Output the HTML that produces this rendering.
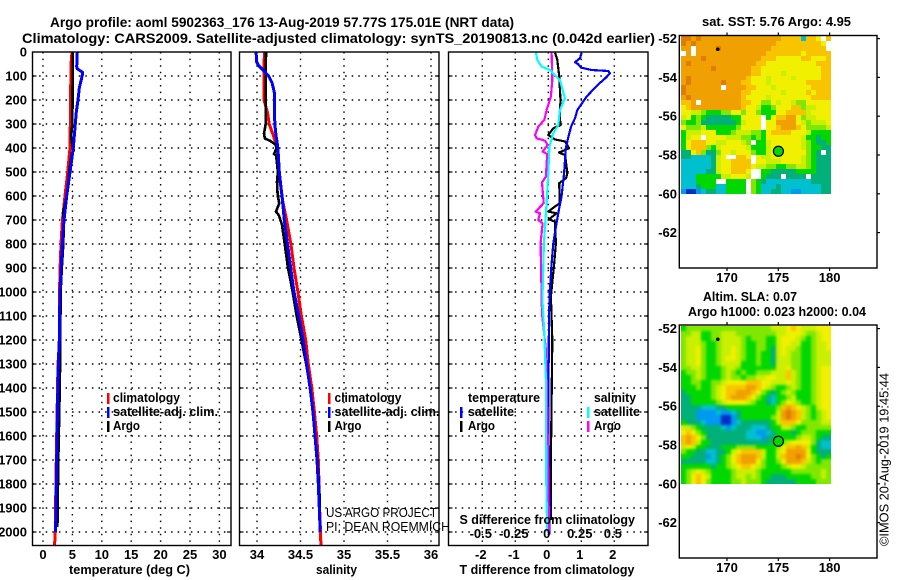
<!DOCTYPE html>
<html lang="en">
<head>
<meta charset="utf-8">
<title>Argo profile 5902363_176</title>
<style>
html,body{margin:0;padding:0;background:#fff;}
svg{display:block;font-family:"Liberation Sans",sans-serif;fill:#000;}
.b{font-weight:bold;font-size:13px;}
.t{font-weight:bold;font-size:14px;}
.r{font-weight:normal;font-size:13px;}
</style>
</head>
<body>
<svg id="chart" xmlns="http://www.w3.org/2000/svg" width="900" height="580" viewBox="0 0 900 580">
<defs>
<filter id="smooth" filterUnits="userSpaceOnUse" x="681" y="326" width="150" height="158" color-interpolation-filters="sRGB">
<feGaussianBlur in="SourceGraphic" stdDeviation="1.4" result="soft"/>
<feMerge><feMergeNode in="SourceGraphic"/><feMergeNode in="soft"/></feMerge>
</filter>
</defs>
<rect x="0" y="0" width="900" height="580" fill="#fff"/>
<g id="maps"></g>
<g id="plots"></g>

<text class="t" x="50" y="27" textLength="464" lengthAdjust="spacingAndGlyphs">Argo profile: aoml 5902363_176 13-Aug-2019 57.77S 175.01E (NRT data)</text>
<text class="t" x="22" y="43" textLength="633" lengthAdjust="spacingAndGlyphs">Climatology: CARS2009. Satellite-adjusted climatology: synTS_20190813.nc (0.042d earlier)</text>

<text class="b" x="69" y="574" textLength="121" lengthAdjust="spacingAndGlyphs">temperature (deg C)</text>
<text class="b" x="316" y="574" textLength="41" lengthAdjust="spacingAndGlyphs">salinity</text>
<text class="b" x="459.5" y="574" textLength="175" lengthAdjust="spacingAndGlyphs">T difference from climatology</text>
<text class="b" x="459.5" y="524" textLength="175.5" lengthAdjust="spacingAndGlyphs">S difference from climatology</text>

<g>
<rect x="107" y="393" width="2.5" height="11" fill="#f00"/>
<rect x="107" y="407" width="2.5" height="11" fill="#00f"/>
<rect x="107" y="421" width="2.5" height="11" fill="#000"/>
<text class="b" x="113" y="402" textLength="67" lengthAdjust="spacingAndGlyphs">climatology</text>
<text class="b" x="113" y="416" textLength="105" lengthAdjust="spacingAndGlyphs">satellite-adj. clim.</text>
<text class="b" x="113" y="430" textLength="27" lengthAdjust="spacingAndGlyphs">Argo</text>
</g>
<g>
<rect x="328" y="393" width="2.5" height="11" fill="#f00"/>
<rect x="328" y="407" width="2.5" height="11" fill="#00f"/>
<rect x="328" y="421" width="2.5" height="11" fill="#000"/>
<text class="b" x="334.5" y="402" textLength="67" lengthAdjust="spacingAndGlyphs">climatology</text>
<text class="b" x="334.5" y="416" textLength="105" lengthAdjust="spacingAndGlyphs">satellite-adj. clim.</text>
<text class="b" x="334.5" y="430" textLength="27" lengthAdjust="spacingAndGlyphs">Argo</text>
</g>
<g>
<text class="b" x="468" y="402" textLength="72" lengthAdjust="spacingAndGlyphs">temperature</text>
<rect x="460" y="407" width="2.5" height="11" fill="#00f"/>
<rect x="460" y="421" width="2.5" height="11" fill="#000"/>
<text class="b" x="468" y="416" textLength="46" lengthAdjust="spacingAndGlyphs">satellite</text>
<text class="b" x="468" y="430" textLength="27" lengthAdjust="spacingAndGlyphs">Argo</text>
<text class="b" x="594" y="402" textLength="42" lengthAdjust="spacingAndGlyphs">salinity</text>
<rect x="587" y="407" width="2.5" height="11" fill="#0ff"/>
<rect x="587" y="421" width="2.5" height="11" fill="#f0f"/>
<text class="b" x="594" y="416" textLength="46" lengthAdjust="spacingAndGlyphs">satellite</text>
<text class="b" x="594" y="430" textLength="27" lengthAdjust="spacingAndGlyphs">Argo</text>
</g>

<text class="r" x="326" y="517" textLength="111" lengthAdjust="spacingAndGlyphs">US ARGO PROJECT</text>
<text class="r" x="326" y="531" textLength="124" lengthAdjust="spacingAndGlyphs">PI: DEAN ROEMMICH</text>

<text class="b" x="702" y="26" textLength="149" lengthAdjust="spacingAndGlyphs">sat. SST: 5.76 Argo: 4.95</text>
<text class="b" x="703" y="301" textLength="94" lengthAdjust="spacingAndGlyphs">Altim. SLA: 0.07</text>
<text class="b" x="688" y="316" textLength="178" lengthAdjust="spacingAndGlyphs">Argo h1000: 0.023 h2000: 0.04</text>
<text class="r" transform="translate(888.5,546) rotate(-90)" x="0" y="0" textLength="173" lengthAdjust="spacingAndGlyphs">©IMOS 20-Aug-2019 19:45:44</text>
</svg>

<script>
// ---- profile data (depth in dbar) ----
const depthTicks = [0,100,200,300,400,500,600,700,800,900,1000,1100,1200,1300,1400,1500,1600,1700,1800,1900,2000];
const tempTicks = [0,5,10,15,20,25,30];
const salTicks = [34,34.5,35,35.5,36];
const salTickLabels = ["34","34.5","35","35.5","36"];
const tDiffTicks = [-2,-1,0,1,2];
const sDiffTicks = [-0.5,-0.25,0,0.25,0.5];
const sDiffLabels = ["-0.5","-0.25","0","0.25","0.5"];

const tempClimDepth = [0,50,400,500,600,700,800,900,1000,1100,1200,1300,1500,1800,2000,2057];
const tempClim = [4.93,4.76,4.6,4.2,3.74,3.3,3.06,2.9,2.8,2.8,2.8,2.55,2.4,2.2,2.1,1.95];
const tempSatDepth = [0,60,70,85,95,150,200,250,300,400,500,600,700,800,900,1000,1100,1200,1300,1500,1800,2000];
const tempSat = [5.84,5.73,5.84,6.75,6.7,6.17,5.95,5.67,5.5,5.16,4.6,4.03,3.57,3.28,3.1,2.9,2.8,2.77,2.6,2.45,2.27,2.15];
const tempArgoDepth = [0,300,350,390,410,420,500,600,670,700,800,900,1000,1200,1400,1450,1700,1980];
const tempArgo = [5.05,5.0,4.77,5.0,5.26,4.9,4.45,4.05,3.4,3.55,3.45,3.2,3.0,2.95,2.85,2.8,2.6,2.45];

const salClimDepth = [0,200,250,300,350,400,500,620,700,800,900,1000,1100,1200,1300,1400,1500,1600,1700,1800,1900,2000,2057];
const salClim = [34.084,34.08,34.12,34.14,34.19,34.23,34.25,34.295,34.34,34.39,34.425,34.47,34.51,34.56,34.59,34.63,34.66,34.686,34.705,34.713,34.72,34.73,34.735];
const salSatDepth = [0,40,55,75,100,130,170,300,350,400,500,600,700,800,900,1000,1100,1200,1300,1400,1500,1600,1700,1800,1900,2000];
const salSat = [33.99,33.995,34.015,34.07,34.134,34.175,34.2,34.205,34.22,34.24,34.256,34.287,34.314,34.35,34.387,34.425,34.48,34.53,34.57,34.61,34.644,34.667,34.69,34.705,34.716,34.727];
const salArgoDepth = [0,150,300,340,360,370,385,400,425,430,500,540,600,630,665,680,720,800,900,1000,1100,1300,1400,1500,1700,1850,1960];
const salArgo = [34.103,34.1,34.1,34.08,34.09,34.15,34.21,34.225,34.195,34.22,34.24,34.23,34.238,34.256,34.218,34.25,34.287,34.318,34.356,34.41,34.456,34.565,34.61,34.64,34.695,34.72,34.72];

const dTSatDepth = [3,26,43,51,65,75,79,89,110,138,186,242,276,311,353,401,505,603,658,714,797,881,992,1100,1500,2010];
const dTSat = [1.01,0.96,0.81,0.91,0.99,1.31,1.82,1.87,1.72,1.49,1.16,0.88,0.81,0.69,0.61,0.53,0.48,0.40,0.32,0.25,0.15,0.10,0.05,0.02,0,0.04];
const dTArgoDepth = [3,30,100,200,270,304,318,346,364,373,401,419,429,505,525,547,630,644,665,672,697,707,797,881,1019,1200,1700,1950];
const dTArgo = [0.20,0.27,0.33,0.37,0.35,0.37,0.15,0,0.2,0.51,0.63,0.32,0.51,0.58,0.54,0.33,0.35,0.2,0,0.25,0.02,0.2,0.23,0.18,0.08,0.12,0.08,0.08];
const dSArgoDepth = [3,117,186,242,283,311,346,360,369,388,415,425,519,544,630,665,672,700,714,797,1033,1089,1242,1353,1645,2000];
const dSArgo = [0.025,0.03,0.02,-0.013,-0.03,-0.076,-0.10,-0.088,-0.025,-0.005,-0.043,-0.008,-0.018,-0.048,-0.035,-0.096,-0.063,-0.076,-0.043,-0.058,-0.05,-0.048,-0.018,-0.013,-0.003,0.005];
const dSSatDepth = [3,33,61,75,117,193,242,304,339,394,505,630,797,1033,1171,1365,1796,1997];
const dSSat = [-0.093,-0.083,-0.05,0.013,0.088,0.126,0.088,0.076,0.038,0.008,0,-0.013,-0.033,-0.045,-0.03,-0.018,-0.015,-0.008];

// ---- map data: one character per grid cell, '.' = no data, spaces only group columns ----
const mapLatTicks = [-52,-54,-56,-58,-60,-62];
const mapLonTicks = [170,175,180];
const profileLon = 175.01;
const profileLat = -57.77;
const otherLon = 169.1;
const otherLat = -52.55;
const sstRows = [
"aa9a999999 9999999999 88882887.8",
"a9a9999999 9999999998 888888887.",
"99.9999a99 9999999988 888888888.",
".9.9999999 9999999888 8888788888",
"9999a99999 9999998887 7777887778",
"9a99999999 9999988777 7777777888",
"999999a999 9999887777 7777777788",
"9999999999 9999887777 6777777788",
"9a99999999 9998777677 7767777788",
"9a999999a9 9988777677 7777788888",
"a9999999.9 9998877767 7777778888",
"a999999999 9988777777 6777787888",
"9a99999999 9987777677 7777778888",
"889.999999 9988775576 7765577777",
"7899999999 9987764457 7788566777",
"7766544455 7757754447 7888867777",
"6745433333 447777.478 8997566777",
"5445333333 346777.779 9997656667",
"7555644444 457777.778 9998755556",
"4666777444 5666554788 8877764444",
"4677.77776 6655454777 7777644344",
"4788877667 7765.44677 7777654334",
"4788854677 7776444677 7777654433",
"3378533577 6777544677 77777543.3",
"332222367. .887.76677 7777654333",
"2222223677 8888.77666 7777654333",
"2222223677 8888766554 4556654333",
"2222233677 8887..4433 3334444333",
"2224444466 7776..4333 .3333.3333",
"2224444..4 444.543222 2222223333",
"2223444224 444.542223 2222222233",
"1001233224 444.542233 2211222233"
];
const slaRows = [
"4555555555 5555555566 6787666777",
"5566445566 6555555556 6777655677",
"5666445566 6654555446 7776545677",
"5666544566 6654455446 7766445667",
"5667544566 7654455436 7665445667",
"5667544566 7654454436 7655445666",
"5667544567 7654454436 6655445666",
"5667544566 6644454436 6655445666",
"5566544456 6544444446 6755445677",
"4556544456 5454455566 6865445677",
"4456544456 5545566776 6865445677",
"4455445567 7778887766 6765445677",
"4445445678 8889987654 4565445677",
"3444445678 8999875434 5654445677",
"3344445678 9998754324 4564445677",
"3344444567 7776544324 5765445677",
"3333222334 4444444445 8987654677",
"3331111211 2344444446 9a98654567",
"3331111100 1344444456 9a98654567",
"4333211100 1233333346 8887555566",
"6654333321 2333222344 6654455555",
"7875433333 3332211234 4434555444",
"8987533333 3332221334 4445665433",
"8986443333 3333333344 5677775322",
"6764433344 4555544445 7889864322",
"5443322334 6788886446 7999974333",
"4433312345 7899986446 899a975434",
"3333322345 7899975445 7999865455",
"4444443445 6788765444 5677655555",
"4567654444 5666654444 4455555565",
"4578764444 5665654433 3444445565",
"4578754444 5565554333 3334444555"
];
const paletteKeys = ["0","1","2","3","4","5","6","7","8","9","a"];
const paletteColors = ["#0030c8","#0098f0","#00c0d0","#00b078","#00d800","#80e800","#c8f000","#f0f000","#f8c400","#f0a000","#e07c00"];

// ---- geometry ----
const NS = "http://www.w3.org/2000/svg";
const plots = document.getElementById("plots");
const maps = document.getElementById("maps");
const PANEL_TOP = 52, PANEL_BOTTOM = 545.5;
const depthY = d => PANEL_TOP + d * 0.24;
const tempX = t => 43 + t * 5.88;
const salX = s => 257 + (s - 34) * 87;
const dTX = t => 548.3 + t * 33;
const dSX = s => 548.3 + s * 132;
const lonX = l => 778.3 + (l - 175) * 10.26;
const latY1 = la => 155 + (-58 - la) * 19.4;
const latY2 = la => 445 + (-58 - la) * 19.4;

function mk(parent, tag, name, attrs, text) {
  const e = document.createElementNS(NS, tag);
  
  
  for (const k in attrs) e.setAttribute(k, attrs[k]);
  if (text !== undefined) e.textContent = text;
  parent.appendChild(e);
  return e;
}

function panel(name, x0, x1, xTicks, xFn) {
  const g = mk(plots, "g", name, {});
  const dots = {stroke:"#000","stroke-width":1.4,"stroke-dasharray":"1.5 5.1",fill:"none"};
  depthTicks.forEach(d => {
    const y = depthY(d);
    if (d > 0) {
      mk(g, "line", "horizontal-gridline", Object.assign({x1:x0,x2:x1,y1:y,y2:y}, dots));
      mk(g, "line", "depth-tick-left", {x1:x0,x2:x0+4,y1:y,y2:y,stroke:"#000","stroke-width":1.2});
      mk(g, "line", "depth-tick-right", {x1:x1-4,x2:x1,y1:y,y2:y,stroke:"#000","stroke-width":1.2});
    }
  });
  xTicks.forEach(v => {
    const x = xFn(v);
    mk(g, "line", "vertical-gridline", Object.assign({x1:x,x2:x,y1:PANEL_TOP,y2:PANEL_BOTTOM}, dots));
  });
  return g;
}

function series(g, name, color, depths, values, xFn, width) {
  const pts = depths.map((d, i) => xFn(values[i]).toFixed(1) + "," + depthY(d).toFixed(1)).join(" ");
  mk(g, "polyline", name, {points:pts,fill:"none",stroke:color,"stroke-width":width,"shape-rendering":"crispEdges","stroke-linejoin":"round"});
}

function frame(g, name, x0, x1, y0, y1) {
  mk(g, "rect", name, {x:x0,y:y0,width:x1-x0,height:y1-y0,fill:"none",stroke:"#000","stroke-width":1.4});
}

// temperature panel
const p1 = panel("temperature-panel", 32.5, 231, tempTicks, tempX);
series(p1, "temperature-climatology-line", "#f00", tempClimDepth, tempClim, tempX, 3);
series(p1, "temperature-argo-line", "#000", tempArgoDepth, tempArgo, tempX, 2.6);
series(p1, "temperature-satellite-line", "#00f", tempSatDepth, tempSat, tempX, 3);
frame(p1, "temperature-panel-frame", 32.5, 231, PANEL_TOP, PANEL_BOTTOM);

// salinity panel
const p2 = panel("salinity-panel", 239.5, 439, salTicks, salX);
series(p2, "salinity-climatology-line", "#f00", salClimDepth, salClim, salX, 3);
series(p2, "salinity-argo-line", "#000", salArgoDepth, salArgo, salX, 2.6);
series(p2, "salinity-satellite-line", "#00f", salSatDepth, salSat, salX, 3);
frame(p2, "salinity-panel-frame", 239.5, 439, PANEL_TOP, PANEL_BOTTOM);

// difference panel
const p3 = panel("difference-panel", 448.5, 648, tDiffTicks, dTX);
series(p3, "t-difference-argo-line", "#000", dTArgoDepth, dTArgo, dTX, 2.2);
series(p3, "t-difference-satellite-line", "#00f", dTSatDepth, dTSat, dTX, 2.2);
series(p3, "s-difference-argo-line", "#f0f", dSArgoDepth, dSArgo, dSX, 2.2);
series(p3, "s-difference-satellite-line", "#0ff", dSSatDepth, dSSat, dSX, 2.2);
frame(p3, "difference-panel-frame", 448.5, 648, PANEL_TOP, PANEL_BOTTOM);

// tick labels
depthTicks.forEach(d => {
  mk(plots, "text", "depth-tick-label", {x:27,y:depthY(d)+4.5,"text-anchor":"end","class":"b"}, String(d));
});
tempTicks.forEach(v => {
  mk(plots, "text", "temperature-tick-label", {x:tempX(v),y:559,"text-anchor":"middle","class":"b"}, String(v));
});
salTicks.forEach((v, i) => {
  mk(plots, "text", "salinity-tick-label", {x:salX(v),y:559,"text-anchor":"middle","class":"b"}, salTickLabels[i]);
});
tDiffTicks.forEach(v => {
  mk(plots, "text", "t-difference-tick-label", {x:dTX(v)-1.5,y:559,"text-anchor":"middle","class":"b"}, String(v));
});
sDiffTicks.forEach((v, i) => {
  mk(plots, "text", "s-difference-tick-label", {x:dSX(v)-1.5,y:538,"text-anchor":"middle","class":"b"}, sDiffLabels[i]);
});

// maps
const colorOf = {};
paletteKeys.forEach((k, i) => { colorOf[k] = paletteColors[i]; });

function drawMap(name, rows, top, latFn, frameTop, frameBottom, smooth) {
  const g = mk(maps, "g", name, {});
  const cells = mk(g, "g", "map-cells", smooth ? {filter:"url(#smooth)"} : {});
  const cellW = 5, cellH = 158 / 32;
  rows.forEach((rawRow, r) => {
    const row = rawRow.replace(/ /g, "");
    for (let c = 0; c < 30; c++) {
      const col = colorOf[row[c]];
      if (!col) continue;
      const y0 = Math.round(top + r * cellH), y1 = Math.round(top + (r + 1) * cellH);
      mk(cells, "rect", "map-cell", {x:681 + c * cellW,y:y0,width:cellW,height:y1-y0,fill:col,"shape-rendering":"crispEdges"});
    }
  });
  frame(g, "map-frame", 679.3, 877, frameTop, frameBottom);
  mapLatTicks.forEach(la => {
    const y = latFn(la);
    mk(g, "line", "latitude-tick-right", {x1:877,x2:880,y1:y,y2:y,stroke:"#000","stroke-width":1.2});
    mk(g, "text", "latitude-tick-label", {x:677,y:y+4.5,"text-anchor":"end","class":"b"}, String(la));
  });
  mapLonTicks.forEach(lo => {
    const x = lonX(lo);
    mk(g, "line", "longitude-tick-top", {x1:x,x2:x,y1:frameTop-3,y2:frameTop,stroke:"#000","stroke-width":1.2});
    mk(g, "line", "longitude-tick-bottom", {x1:x,x2:x,y1:frameBottom,y2:frameBottom+3,stroke:"#000","stroke-width":1.2});
    mk(g, "text", "longitude-tick-label", {x:x,y:frameBottom+14,"text-anchor":"middle","class":"b"}, String(lo));
  });
  mk(g, "circle", "argo-profile-marker", {cx:lonX(profileLon),cy:latFn(profileLat)+0.7,r:5,fill:"#00d800",stroke:"#000","stroke-width":1.2});
  mk(g, "circle", "previous-profile-dot", {cx:lonX(otherLon),cy:latFn(otherLat),r:1.8,fill:"#000"});
}
drawMap("sst-map", sstRows, 36, latY1, 35.5, 268, false);
drawMap("altimetry-map", slaRows, 326, latY2, 325, 558, true);
</script>
</body>
</html>
